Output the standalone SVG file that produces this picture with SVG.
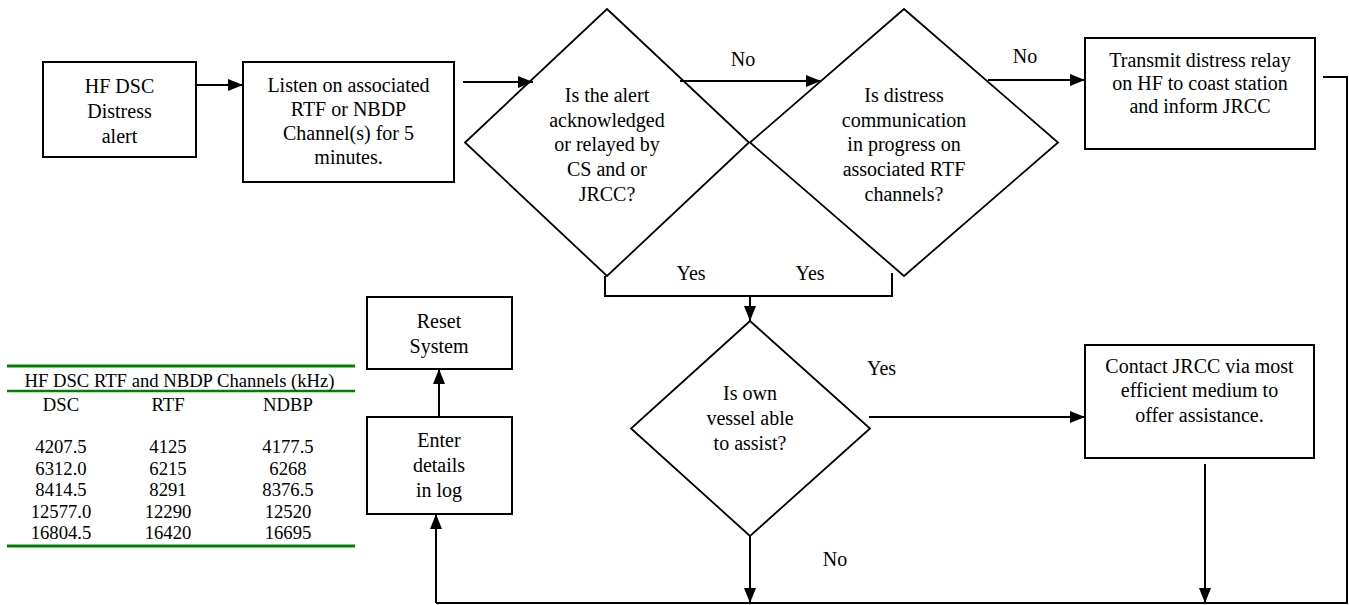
<svg xmlns="http://www.w3.org/2000/svg" width="1349" height="605" viewBox="0 0 1349 605">
<style>
.box{fill:#fff;stroke:#000;stroke-width:2}
.dia{fill:none;stroke:#000;stroke-width:1.8}
.ln{fill:none;stroke:#000;stroke-width:2}
.arr{fill:none;stroke:#000;stroke-width:2;marker-end:url(#ah)}
text{font-family:"Liberation Serif","Times New Roman",serif;font-size:20px;fill:#000;text-anchor:middle}
.lbl{text-anchor:start}
.tb{font-size:18.67px}
.gl{stroke:#008000}
</style>
<defs>
<marker id="ah" markerUnits="userSpaceOnUse" markerWidth="15" markerHeight="12" refX="15" refY="6" orient="auto">
<path d="M0,0 L15,6 L0,12 z" fill="#000"/>
</marker>
</defs>
<rect width="1349" height="605" fill="#fff"/>
<g id="connectors">
<path class="arr" d="M196,85 H243"/>
<path class="arr" d="M463,82 H533"/>
<path class="arr" d="M680,81 H821"/>
<path class="arr" d="M988,80 H1085"/>
<path class="ln" d="M1323,77 H1347 V603 H436"/>
<path class="arr" d="M436,603 V514"/>
<path class="ln" d="M605,276 V296 H892 V273"/>
<path class="arr" d="M750,296 V321"/>
<path class="arr" d="M869,417 H1085"/>
<path class="arr" d="M750,536 V603"/>
<path class="arr" d="M1205,464 V603"/>
<path class="arr" d="M439,417 V369"/>
<text x="743" y="66">No</text>
<text x="1025" y="63">No</text>
<text x="691" y="280">Yes</text>
<text x="810" y="280">Yes</text>
<text class="lbl" x="867" y="375">Yes</text>
<text x="835" y="566">No</text>
</g>
<g id="n-hfdsc">
<rect class="box" x="43" y="62" width="153" height="95"/>
<text x="119.5" y="93">HF DSC</text>
<text x="119.5" y="118">Distress</text>
<text x="119.5" y="143">alert</text>
</g>
<g id="n-listen">
<rect class="box" x="243" y="62" width="211" height="120"/>
<text x="348.5" y="92">Listen on associated</text>
<text x="348.5" y="116">RTF or NBDP</text>
<text x="348.5" y="140">Channel(s) for 5</text>
<text x="348.5" y="164">minutes.</text>
</g>
<g id="n-ack">
<polygon class="dia" points="607,9 749,142.5 607,276 465,142.5"/>
<text x="607" y="102">Is the alert</text>
<text x="607" y="127">acknowledged</text>
<text x="607" y="151">or relayed by</text>
<text x="607" y="176">CS and or</text>
<text x="607" y="201">JRCC?</text>
</g>
<g id="n-comm">
<polygon class="dia" points="904,9 1058,142.5 904,276 750,142.5"/>
<text x="904" y="102">Is distress</text>
<text x="904" y="127">communication</text>
<text x="904" y="151">in progress on</text>
<text x="904" y="176">associated RTF</text>
<text x="904" y="201">channels?</text>
</g>
<g id="n-transmit">
<rect class="box" x="1085" y="38" width="230" height="111"/>
<text x="1200" y="67">Transmit distress relay</text>
<text x="1200" y="90">on HF to coast station</text>
<text x="1200" y="113">and inform JRCC</text>
</g>
<g id="n-assist">
<polygon class="dia" points="750,321 870,428.5 750,536 631,428.5"/>
<text x="750" y="400">Is own</text>
<text x="750" y="425">vessel able</text>
<text x="750" y="450">to assist?</text>
</g>
<g id="n-contact">
<rect class="box" x="1085" y="345" width="229" height="113"/>
<text x="1199.5" y="373">Contact JRCC via most</text>
<text x="1199.5" y="397">efficient medium to</text>
<text x="1199.5" y="422">offer assistance.</text>
</g>
<g id="n-reset">
<rect class="box" x="367" y="297" width="145" height="72"/>
<text x="439" y="328">Reset</text>
<text x="439" y="353">System</text>
</g>
<g id="n-enter">
<rect class="box" x="367" y="417" width="145" height="97"/>
<text x="439" y="447">Enter</text>
<text x="439" y="472">details</text>
<text x="439" y="497">in log</text>
</g>
<g id="table">
<line class="gl" x1="7" y1="366" x2="355" y2="366" stroke-width="3"/>
<line class="gl" x1="7" y1="391" x2="355" y2="391" stroke-width="2.5"/>
<line class="gl" x1="7" y1="546" x2="355" y2="546" stroke-width="3"/>
<text class="tb" x="179.5" y="387">HF DSC RTF and NBDP Channels (kHz)</text>
<text class="tb" x="61" y="411">DSC</text>
<text class="tb" x="168" y="411">RTF</text>
<text class="tb" x="288" y="411">NDBP</text>
<text class="tb" x="61" y="453">4207.5</text>
<text class="tb" x="168" y="453">4125</text>
<text class="tb" x="288" y="453">4177.5</text>
<text class="tb" x="61" y="474.5">6312.0</text>
<text class="tb" x="168" y="474.5">6215</text>
<text class="tb" x="288" y="474.5">6268</text>
<text class="tb" x="61" y="496">8414.5</text>
<text class="tb" x="168" y="496">8291</text>
<text class="tb" x="288" y="496">8376.5</text>
<text class="tb" x="61" y="517.5">12577.0</text>
<text class="tb" x="168" y="517.5">12290</text>
<text class="tb" x="288" y="517.5">12520</text>
<text class="tb" x="61" y="539">16804.5</text>
<text class="tb" x="168" y="539">16420</text>
<text class="tb" x="288" y="539">16695</text>
</g>
</svg>
